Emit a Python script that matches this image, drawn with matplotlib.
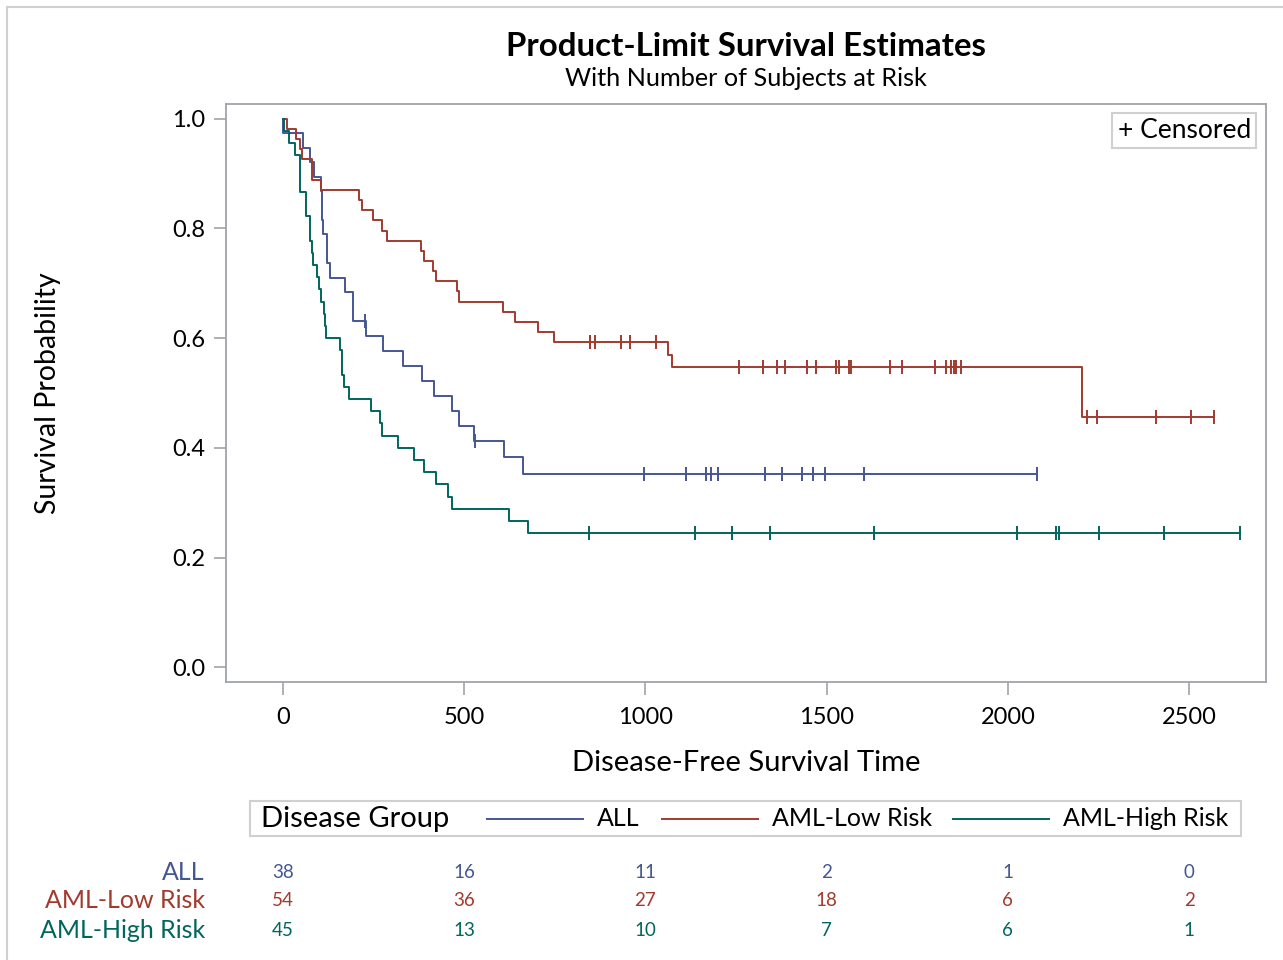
import numpy as np
import matplotlib
matplotlib.use("Agg")
from matplotlib import pyplot as plt
from matplotlib.lines import Line2D
from matplotlib.patches import Rectangle
from matplotlib.transforms import blended_transform_factory

plt.rcParams['font.family'] = ['Lato', 'DejaVu Sans']

# Disease-free survival times and status (1 = event, 0 = censored)
allTimes = [2081, 1602, 1496, 1462, 1433, 1377, 1330, 996, 226, 1199, 1111, 530, 1182, 1167,
            418, 383, 276, 104, 609, 172, 487, 662, 194, 230, 526, 122, 129, 74, 122, 86,
            466, 192, 109, 55, 1, 107, 110, 332]
allStatus = [0] * 14 + [1] * 24

lowTimes = [2569, 2506, 2409, 2218, 1857, 1829, 1562, 1470, 1363, 1030, 860, 1258, 2246, 1870,
            1799, 1709, 1674, 1568, 1527, 1324, 957, 932, 847, 848, 1850, 1843, 1535, 1447, 1384,
            414, 2204, 1063, 481, 105, 641, 390, 288, 421, 79, 748, 486, 48, 272, 1074, 381,
            10, 53, 80, 35, 248, 704, 211, 219, 606]
lowStatus = [0] * 29 + [1] * 25

highTimes = [2640, 2430, 2252, 2140, 2133, 1238, 1631, 2024, 1345, 1136, 845,
             422, 162, 84, 100, 2, 47, 242, 456, 268, 318, 32, 467, 47, 390, 183, 105, 115,
             164, 93, 120, 80, 677, 64, 168, 74, 16, 157, 625, 48, 273, 63, 76, 113, 363]
highStatus = [0] * 11 + [1] * 34

groupNames = ["ALL", "AML-Low Risk", "AML-High Risk"]
groupColors = ["#445694", "#A23A2E", "#01665E"]

riskTimes = [0, 500, 1000, 1500, 2000, 2500]
atRiskAll = [38, 16, 11, 2, 1, 0]
atRiskLow = [54, 36, 27, 18, 6, 2]
atRiskHigh = [45, 13, 10, 7, 6, 1]

W, H = 1283, 960


def kaplanMeier(times, status):
    times = np.array(times, dtype=float)
    status = np.array(status)
    stepT, stepS = [0.0], [1.0]
    s = 1.0
    for t in np.unique(times[status == 1]):
        n = np.sum(times >= t)
        d = np.sum((times == t) & (status == 1))
        s *= 1 - d / n
        stepT.append(t)
        stepS.append(s)
    stepT.append(times.max())
    stepS.append(s)
    stepT, stepS = np.array(stepT), np.array(stepS)
    cens = np.sort(times[status == 0])
    idx = np.searchsorted(stepT[:-1], cens, side='right') - 1
    return stepT, stepS, cens, stepS[idx]


def figBox(x0, y0, x1, y1):
    # pixel box (top-left origin) -> figure fraction rect
    return [x0 / W, 1 - y1 / H, (x1 - x0) / W, (y1 - y0) / H]


fig = plt.figure(figsize=(W / 100, H / 100), dpi=100)
fig.patches.append(Rectangle((7 / W, -0.1), 1.2, 1 - 7 / H + 0.1, transform=fig.transFigure,
                             fill=False, edgecolor='#d0d0d0', lw=1.5))

ax = fig.add_axes(figBox(226, 104, 1266, 682))

groups = [(allTimes, allStatus), (lowTimes, lowStatus), (highTimes, highStatus)]
for (times, status), color in zip(groups, groupColors):
    t, s, ct, cs = kaplanMeier(times, status)
    ax.step(t, s, where='post', color=color, lw=1.4)
    ax.plot(ct, cs, ls='none', marker='|', ms=9.5, mew=1.4, color=color)

ax.set_xlim(-157, 2712)
ax.set_ylim(-0.027, 1.027)
ax.set_xticks(riskTimes)
ax.set_yticks(np.arange(0, 1.01, 0.2))
ax.set_yticklabels([f"{v:.1f}" for v in np.arange(0, 1.01, 0.2)])
ax.tick_params(length=9, width=1.2, color='#a0a4a8', labelsize=17, pad=6)
ax.tick_params(axis='x', pad=9)
for sp in ax.spines.values():
    sp.set_color('#a0a4a8')
    sp.set_linewidth(1.3)

ax.set_xlabel("Disease-Free Survival Time", fontsize=21)
ax.xaxis.set_label_coords(0.5, -(763 - 682) / 578)
ax.xaxis.label.set_va('center')
ax.set_ylabel("Survival Probability", fontsize=20.5)
ax.yaxis.set_label_coords(-(226 - 48) / 1040, 0.5)
ax.yaxis.label.set_va('center')

ax.text(1 - 15 / 1040, 1 - 14 / 578, "+ Censored", transform=ax.transAxes, ha='right', va='top',
        fontsize=19, bbox=dict(boxstyle='square,pad=0.2', fc='white', ec='#d0d0d0', lw=1.5))

# Titles
fig.text(746 / W, 1 - 47 / H, "Product-Limit Survival Estimates", ha='center', va='center',
         fontsize=23.8, fontweight='bold')
fig.text(746 / W, 1 - 79 / H, "With Number of Subjects at Risk", ha='center', va='center',
         fontsize=18.2)

# Group legend below the plot
fig.patches.append(Rectangle((250 / W, 1 - 836 / H), 991 / W, 35 / H, transform=fig.transFigure,
                             fill=False, edgecolor='#d0d0d0', lw=1.5))
legY = 1 - 819 / H
fig.text(261 / W, legY, "Disease Group", ha='left', va='center', fontsize=21)
for name, color, x0 in zip(groupNames, groupColors, [487, 662, 953]):
    fig.add_artist(Line2D([x0 / W, (x0 + 96) / W], [legY, legY], transform=fig.transFigure,
                          color=color, lw=1.4))
    fig.text((x0 + 110) / W, legY, name, ha='left', va='center', fontsize=18)

# Number at risk table
trans = blended_transform_factory(ax.transData, fig.transFigure)
for row, (name, color, counts) in enumerate(zip(groupNames, groupColors,
                                                [atRiskAll, atRiskLow, atRiskHigh])):
    yy = 1 - (872 + 29 * row) / H
    fig.text(205 / W, yy, name, ha='right', va='center', fontsize=18, color=color)
    for xv, c in zip(riskTimes, counts):
        ax.text(xv, yy, str(c), transform=trans, ha='center', va='center', fontsize=13.5,
                color=color)

fig.savefig("out.png", dpi=100)
